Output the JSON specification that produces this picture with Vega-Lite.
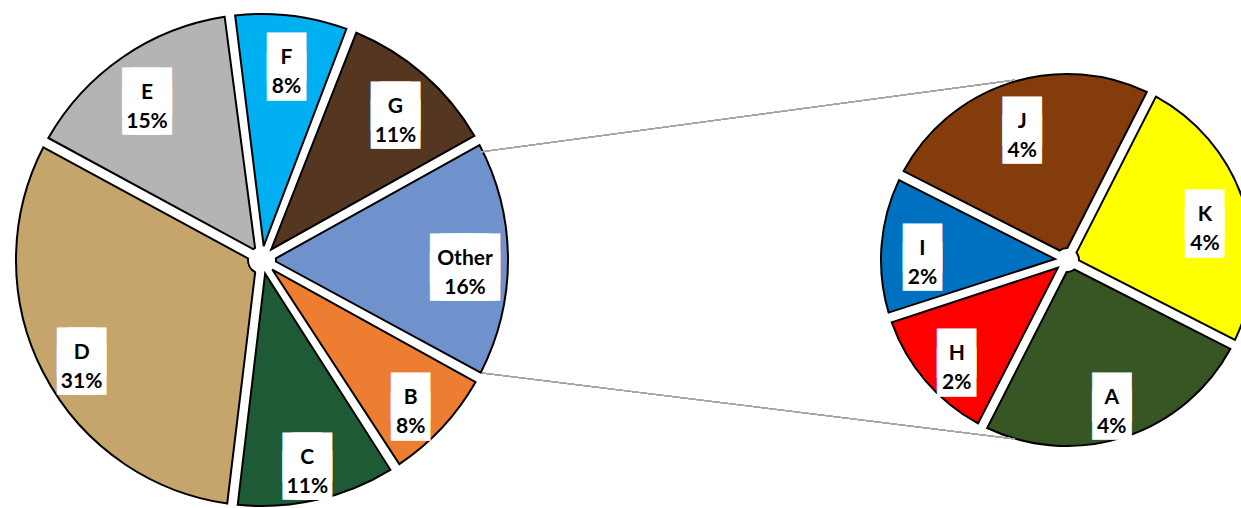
{
  "$schema": "https://vega.github.io/schema/vega-lite/v6.json",
  "width": 1241,
  "height": 508,
  "padding": 0,
  "autosize": {"type": "none"},
  "background": "white",
  "config": {"view": {"stroke": null}},
  "data": {
    "values": [
      {"pie": "main", "cat": "F", "pct": 8, "idx": 1},
      {"pie": "main", "cat": "G", "pct": 11, "idx": 2},
      {"pie": "main", "cat": "Other", "pct": 16, "idx": 3},
      {"pie": "main", "cat": "B", "pct": 8, "idx": 4},
      {"pie": "main", "cat": "C", "pct": 11, "idx": 5},
      {"pie": "main", "cat": "D", "pct": 31, "idx": 6},
      {"pie": "main", "cat": "E", "pct": 15, "idx": 7},
      {"pie": "other", "cat": "J", "pct": 4, "idx": 1},
      {"pie": "other", "cat": "K", "pct": 4, "idx": 2},
      {"pie": "other", "cat": "A", "pct": 4, "idx": 3},
      {"pie": "other", "cat": "H", "pct": 2, "idx": 4},
      {"pie": "other", "cat": "I", "pct": 2, "idx": 5}
    ]
  },
  "transform": [
    {"calculate": "datum.cat + '\\n' + datum.pct + '%'", "as": "lab"}
  ],
  "layer": [
    {
      "transform": [{"filter": "datum.pie === 'main'"}],
      "encoding": {
        "x": {"datum": 262, "type": "quantitative", "scale": {"domain": [0, 1241], "nice": false, "zero": false}, "axis": null},
        "y": {"datum": 260, "type": "quantitative", "scale": {"domain": [508, 0], "nice": false, "zero": false}, "axis": null},
        "theta": {"field": "pct", "type": "quantitative", "stack": true, "scale": {"range": [-0.1309, 6.1523]}},
        "order": {"field": "idx", "type": "quantitative"}
      },
      "layer": [
        {
          "mark": {"type": "arc", "outerRadius": 246, "innerRadius": 14, "padAngle": 0.043, "stroke": "black", "strokeWidth": 2},
          "encoding": {
            "color": {"field": "cat", "type": "nominal", "legend": null,
              "scale": {"domain": ["F", "G", "Other", "B", "C", "D", "E", "J", "K", "A", "H", "I"],
                        "range": ["#00B0F0", "#553620", "#7092CC", "#ED7D31", "#1F5A37", "#C6A56C", "#B4B4B4", "#843C0C", "#FFFF00", "#375623", "#FF0000", "#0070C0"]}}
          }
        },
        {
          "mark": {"type": "text", "radius": 203, "font": "DejaVu Sans Mono", "fontSize": 17, "lineHeight": 18.4, "fill": "white", "stroke": "white", "strokeWidth": 29, "strokeJoin": "miter"},
          "encoding": {
            "detail": {"field": "cat"},
            "text": {"condition": [{"test": "datum.cat === 'Other'", "value": ["████", "████"]}, {"test": "datum.pct >= 10", "value": ["██", "██"]}], "value": ["█", "█"]}
          }
        },
        {
          "mark": {"type": "text", "radius": 203, "font": "Lato", "fontWeight": "bold", "fontSize": 21, "lineHeight": 29, "lineBreak": "\n", "fill": "black"},
          "encoding": {
            "detail": {"field": "cat"},
            "text": {"field": "lab", "type": "nominal"}
          }
        }
      ]
    },
    {
      "transform": [{"filter": "datum.pie === 'other'"}],
      "encoding": {
        "x": {"datum": 1067, "type": "quantitative"},
        "y": {"datum": 260, "type": "quantitative"},
        "theta": {"field": "pct", "type": "quantitative", "stack": true, "scale": {"range": [-1.0996, 5.1836]}},
        "order": {"field": "idx", "type": "quantitative"}
      },
      "layer": [
        {
          "mark": {"type": "arc", "outerRadius": 186, "innerRadius": 12, "padAngle": 0.055, "stroke": "black", "strokeWidth": 2},
          "encoding": {
            "color": {"field": "cat", "type": "nominal", "legend": null}
          }
        },
        {
          "mark": {"type": "text", "radius": 145, "font": "DejaVu Sans Mono", "fontSize": 17, "lineHeight": 18.4, "fill": "white", "stroke": "white", "strokeWidth": 29, "strokeJoin": "miter"},
          "encoding": {
            "detail": {"field": "cat"},
            "text": {"value": ["█", "█"]}
          }
        },
        {
          "mark": {"type": "text", "radius": 145, "font": "Lato", "fontWeight": "bold", "fontSize": 21, "lineHeight": 29, "lineBreak": "\n", "fill": "black"},
          "encoding": {
            "detail": {"field": "cat"},
            "text": {"field": "lab", "type": "nominal"}
          }
        }
      ]
    },
    {
      "mark": {"type": "rule", "color": "#A6A6A6", "strokeWidth": 1},
      "encoding": {
        "x": {"datum": 480, "type": "quantitative"},
        "y": {"datum": 152, "type": "quantitative"},
        "x2": {"datum": 1015},
        "y2": {"datum": 80}
      }
    },
    {
      "mark": {"type": "rule", "color": "#A6A6A6", "strokeWidth": 1},
      "encoding": {
        "x": {"datum": 482, "type": "quantitative"},
        "y": {"datum": 373, "type": "quantitative"},
        "x2": {"datum": 1015},
        "y2": {"datum": 439}
      }
    }
  ],
  "resolve": {"scale": {"theta": "independent"}}
}
